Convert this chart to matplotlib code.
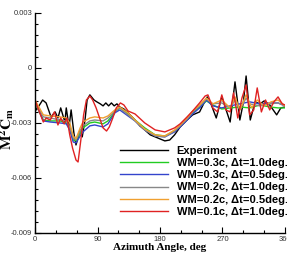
import matplotlib
matplotlib.use("Agg")
from matplotlib import pyplot as plt
from matplotlib.ticker import MultipleLocator, FixedLocator
import numpy as np

# azimuth (deg) and M^2 Cm (x1e-3)
exp_az = [0, 2, 11, 16, 23, 29, 33, 37, 43, 45, 49, 52, 56, 59, 65, 68, 72, 75, 79, 85, 89, 94, 98,
          102, 106, 110, 114, 118, 122, 128, 134, 144, 151, 158, 166, 173, 180, 187, 194, 201, 209,
          219, 227, 237, 242, 248, 254, 261, 269, 281, 288, 295, 300, 304, 310, 317, 324, 330, 338,
          348, 354, 360]
exp_cm = [-1.96, -2.29, -1.75, -1.91, -2.67, -2.40, -2.73, -2.18, -2.95, -2.18, -3.22, -2.29, -3.55,
          -4.20, -3.38, -3.76, -2.84, -1.75, -1.47, -1.75, -1.85, -1.96, -2.07, -1.91, -2.07, -1.91,
          -2.07, -1.96, -2.13, -2.24, -2.45, -2.84, -3.16, -3.38, -3.65, -3.76, -3.87, -3.98, -3.93,
          -3.65, -3.22, -2.84, -2.56, -2.40, -2.02, -1.58, -2.02, -2.73, -1.58, -2.95, -0.76, -2.84,
          -1.90, -0.44, -2.84, -1.85, -1.96, -1.80, -2.02, -2.56, -2.18, -2.13]

smooth_az = [0, 12, 22, 36, 45, 50, 55, 59, 65, 69, 79, 86, 98, 105, 115, 122, 134, 144, 158, 173,
             187, 201, 209, 219, 227, 237, 247, 256, 269, 281, 295, 309, 324, 338, 350, 360]
wm3_dt10 = [-1.91, -2.84, -2.89, -2.89, -3.00, -3.27, -3.93, -3.98, -3.55, -3.27, -3.00, -2.95, -3.05,
            -2.89, -2.40, -2.18, -2.51, -2.84, -3.27, -3.65, -3.71, -3.44, -3.16, -2.78, -2.45, -2.13,
            -1.80, -2.02, -2.24, -2.18, -2.13, -2.18, -2.02, -2.13, -2.18, -2.18]
wm3_dt05 = [-1.80, -2.89, -2.95, -3.00, -3.05, -3.38, -4.04, -4.09, -3.71, -3.49, -3.16, -3.11, -3.22,
            -3.05, -2.45, -2.29, -2.62, -2.89, -3.38, -3.71, -3.76, -3.49, -3.22, -2.84, -2.51, -2.18,
            -1.75, -2.07, -2.18, -2.07, -1.96, -1.85, -1.96, -1.91, -1.91, -2.07]

wm2_dt10_az = [0, 12, 22, 36, 45, 50, 55, 59, 65, 69, 79, 86, 98, 105, 115, 122, 134, 144, 158, 173,
               187, 201, 209, 219, 227, 237, 247, 256, 269, 281, 288, 295, 304, 309, 324, 338, 350, 360]
wm2_dt10 = [-1.85, -2.67, -2.73, -2.84, -2.89, -3.22, -3.82, -3.93, -3.44, -3.16, -2.89, -2.84, -2.89,
            -2.73, -2.35, -2.18, -2.56, -2.89, -3.38, -3.71, -3.76, -3.44, -3.16, -2.78, -2.40, -2.07,
            -1.69, -1.96, -1.91, -2.18, -1.75, -2.29, -1.64, -1.96, -2.07, -1.96, -1.91, -2.07]

wm2_dt05_az = [0, 12, 22, 36, 45, 50, 55, 59, 65, 69, 79, 86, 98, 105, 115, 122, 134, 144, 158, 173,
               187, 201, 209, 219, 227, 237, 247, 256, 269, 281, 288, 295, 304, 312, 320, 330, 340, 350, 360]
wm2_dt05 = [-1.75, -2.56, -2.62, -2.67, -2.73, -3.00, -3.71, -3.87, -3.27, -2.95, -2.73, -2.67, -2.73,
            -2.62, -2.29, -2.13, -2.45, -2.84, -3.33, -3.65, -3.71, -3.38, -3.11, -2.73, -2.35, -2.02,
            -1.64, -1.96, -1.75, -2.18, -1.58, -2.29, -1.47, -2.18, -1.75, -2.07, -1.85, -1.75, -2.07]

wm1_az = [0, 4, 12, 16, 22, 28, 33, 37, 42, 46, 50, 54, 59, 62, 66, 70, 74, 79, 83, 88, 93, 98, 103,
          107, 112, 117, 123, 128, 134, 144, 158, 173, 187, 201, 209, 219, 227, 237, 245, 249, 256,
          263, 269, 275, 281, 286, 292, 298, 304, 309, 315, 320, 326, 332, 338, 344, 350, 356, 360]
wm1_dt10 = [-1.75, -2.18, -2.95, -2.73, -2.84, -2.40, -3.11, -2.73, -3.05, -2.73, -3.65, -4.36, -5.02,
            -5.13, -3.93, -2.56, -1.75, -1.53, -1.75, -2.18, -2.73, -3.27, -3.44, -3.22, -2.73, -2.18,
            -1.91, -2.02, -2.35, -2.51, -3.00, -3.38, -3.49, -3.27, -3.05, -2.67, -2.35, -1.91, -1.53,
            -1.47, -2.18, -2.40, -1.47, -2.29, -2.40, -1.36, -2.73, -1.64, -0.93, -2.56, -2.29, -1.09,
            -2.40, -1.75, -2.29, -1.85, -1.58, -1.96, -2.02]

series = [
    (exp_az, exp_cm, "black", "Experiment"),
    (smooth_az, wm3_dt10, "#22cc22", "WM=0.3c, \u0394t=1.0deg."),
    (smooth_az, wm3_dt05, "#3344cc", "WM=0.3c, \u0394t=0.5deg."),
    (wm2_dt10_az, wm2_dt10, "#888888", "WM=0.2c, \u0394t=1.0deg."),
    (wm2_dt05_az, wm2_dt05, "#f0a030", "WM=0.2c, \u0394t=0.5deg."),
    (wm1_az, wm1_dt10, "#e02222", "WM=0.1c, \u0394t=1.0deg."),
]

plt.rcParams['mathtext.fontset'] = 'stix'

fig = plt.figure(figsize=(2.87, 2.58), dpi=100)
ax = fig.add_axes([0.122, 0.097, 0.871, 0.853])

for az, cm, col, lab in series:
    ax.plot(az, np.array(cm) * 1e-3, color=col, lw=1.0, label=lab)

ax.set_xlim(0, 360)
ax.set_ylim(-0.009, 0.003)
ax.xaxis.set_major_locator(MultipleLocator(90))
ax.xaxis.set_minor_locator(MultipleLocator(30))
ax.yaxis.set_major_locator(FixedLocator([-0.009, -0.006, -0.003, 0, 0.003]))
ax.yaxis.set_minor_locator(MultipleLocator(0.0006))
ax.set_yticklabels(["-0.009", "-0.006", "-0.003", "0", "0.003"])

for s in ["top", "right"]:
    ax.spines[s].set_visible(False)
for s in ["left", "bottom"]:
    ax.spines[s].set_linewidth(1.0)
ax.tick_params(which="both", direction="in", width=0.8)
ax.tick_params(which="major", length=4, labelsize=5.5, pad=2, labelcolor="#333333")
ax.tick_params(which="minor", length=2)
for t in ax.get_xticklabels() + ax.get_yticklabels():
    t.set_fontfamily("Liberation Sans")

ax.set_xlabel("Azimuth Angle, deg", fontfamily="Liberation Serif", fontweight="bold",
              fontsize=8, labelpad=0)
fig.text(0.022, 0.5, r"$\mathbf{M^2C_m}$", rotation=90, fontsize=11, ha="center", va="center")

leg = ax.legend(loc="upper left", bbox_to_anchor=(0.418, 0.435), bbox_transform=fig.transFigure,
                frameon=False, handlelength=4.3, handletextpad=0.8, labelspacing=0.2,
                borderpad=0, borderaxespad=0,
                prop={"family": "Liberation Sans", "weight": "bold", "size": 8})

fig.savefig("out.png", dpi=100)
